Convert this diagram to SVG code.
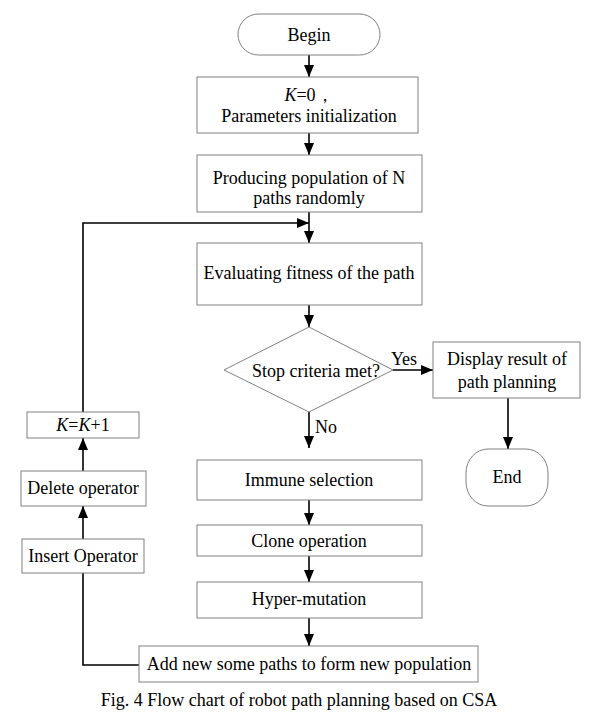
<svg xmlns="http://www.w3.org/2000/svg" width="608" height="718" viewBox="0 0 608 718">
<style>
.box{fill:#fff;stroke:#808080;stroke-width:1}
.t{font-family:"Liberation Serif","Times New Roman",serif;font-size:18px;fill:#000;text-anchor:middle}
.c{fill:none;stroke:#000;stroke-width:1.6}
</style>
<defs>
<marker id="ah" viewBox="0 0 12 10" refX="12" refY="5" markerWidth="12" markerHeight="10" markerUnits="userSpaceOnUse" orient="auto">
<path d="M0,0 L12,5 L0,10 z" fill="#000"/>
</marker>
</defs>
<rect width="608" height="718" fill="#fff"/>
<g id="connectors">
<path class="c" d="M309,55 V77" marker-end="url(#ah)"/>
<path class="c" d="M309,133 V155" marker-end="url(#ah)"/>
<path class="c" d="M309,212 V243" marker-end="url(#ah)"/>
<path class="c" d="M309,305 V327" marker-end="url(#ah)"/>
<path class="c" d="M309,412 V448" marker-end="url(#ah)"/>
<path class="c" d="M393,370 H433" marker-end="url(#ah)"/>
<path class="c" d="M508,398 V449" marker-end="url(#ah)"/>
<path class="c" d="M309,500 V525" marker-end="url(#ah)"/>
<path class="c" d="M309,556 V582" marker-end="url(#ah)"/>
<path class="c" d="M309,618 V646" marker-end="url(#ah)"/>
<path class="c" d="M139,665 H83 V539" marker-end="url(#ah)"/>
<path class="c" d="M83,539 V506" marker-end="url(#ah)"/>
<path class="c" d="M83,471 V438" marker-end="url(#ah)"/>
<path class="c" d="M83,412 V223 H309" marker-end="url(#ah)"/>
<text class="t" x="404" y="365">Yes</text>
<text class="t" x="326" y="433">No</text>
</g>
<g id="begin">
<rect class="box" x="238" y="14" width="142" height="41" rx="20.5" ry="20.5"/>
<text class="t" x="309" y="41">Begin</text>
</g>
<g id="init">
<rect class="box" x="197" y="77" width="221" height="56"/>
<text class="t" x="309" y="101"><tspan font-style="italic">K</tspan>=0，</text>
<text class="t" x="309" y="122">Parameters initialization</text>
</g>
<g id="produce">
<rect class="box" x="197" y="155" width="225" height="57"/>
<text class="t" x="309" y="184">Producing population of N</text>
<text class="t" x="309" y="204">paths randomly</text>
</g>
<g id="evaluate">
<rect class="box" x="197" y="243" width="225" height="62"/>
<text class="t" x="309" y="279">Evaluating fitness of the path</text>
</g>
<g id="stop">
<polygon class="box" points="309,327 393,370 309,412 224,370"/>
<text class="t" x="316" y="377">Stop criteria met?</text>
</g>
<g id="display">
<rect class="box" x="433" y="342" width="147" height="56"/>
<text class="t" x="507" y="365">Display result of</text>
<text class="t" x="507" y="388">path planning</text>
</g>
<g id="end">
<rect class="box" x="466" y="449" width="82" height="57" rx="22" ry="24"/>
<text class="t" x="507" y="483">End</text>
</g>
<g id="immune">
<rect class="box" x="197" y="460" width="225" height="40"/>
<text class="t" x="309" y="486">Immune selection</text>
</g>
<g id="clone">
<rect class="box" x="197" y="525" width="225" height="31"/>
<text class="t" x="309" y="547">Clone operation</text>
</g>
<g id="hyper">
<rect class="box" x="197" y="582" width="225" height="36"/>
<text class="t" x="309" y="605">Hyper-mutation</text>
</g>
<g id="add">
<rect class="box" x="139" y="646" width="339" height="36"/>
<text class="t" x="309" y="670">Add new some paths to form new population</text>
</g>
<g id="insert">
<rect class="box" x="22" y="539" width="122" height="34"/>
<text class="t" x="83" y="562">Insert Operator</text>
</g>
<g id="delete">
<rect class="box" x="21" y="471" width="125" height="35"/>
<text class="t" x="83" y="494">Delete operator</text>
</g>
<g id="kinc">
<rect class="box" x="27" y="412" width="112" height="26"/>
<text class="t" x="83" y="431"><tspan font-style="italic">K</tspan>=<tspan font-style="italic">K</tspan>+1</text>
</g>
<text class="t" x="299" y="706">Fig. 4 Flow chart of robot path planning based on CSA</text>
</svg>
